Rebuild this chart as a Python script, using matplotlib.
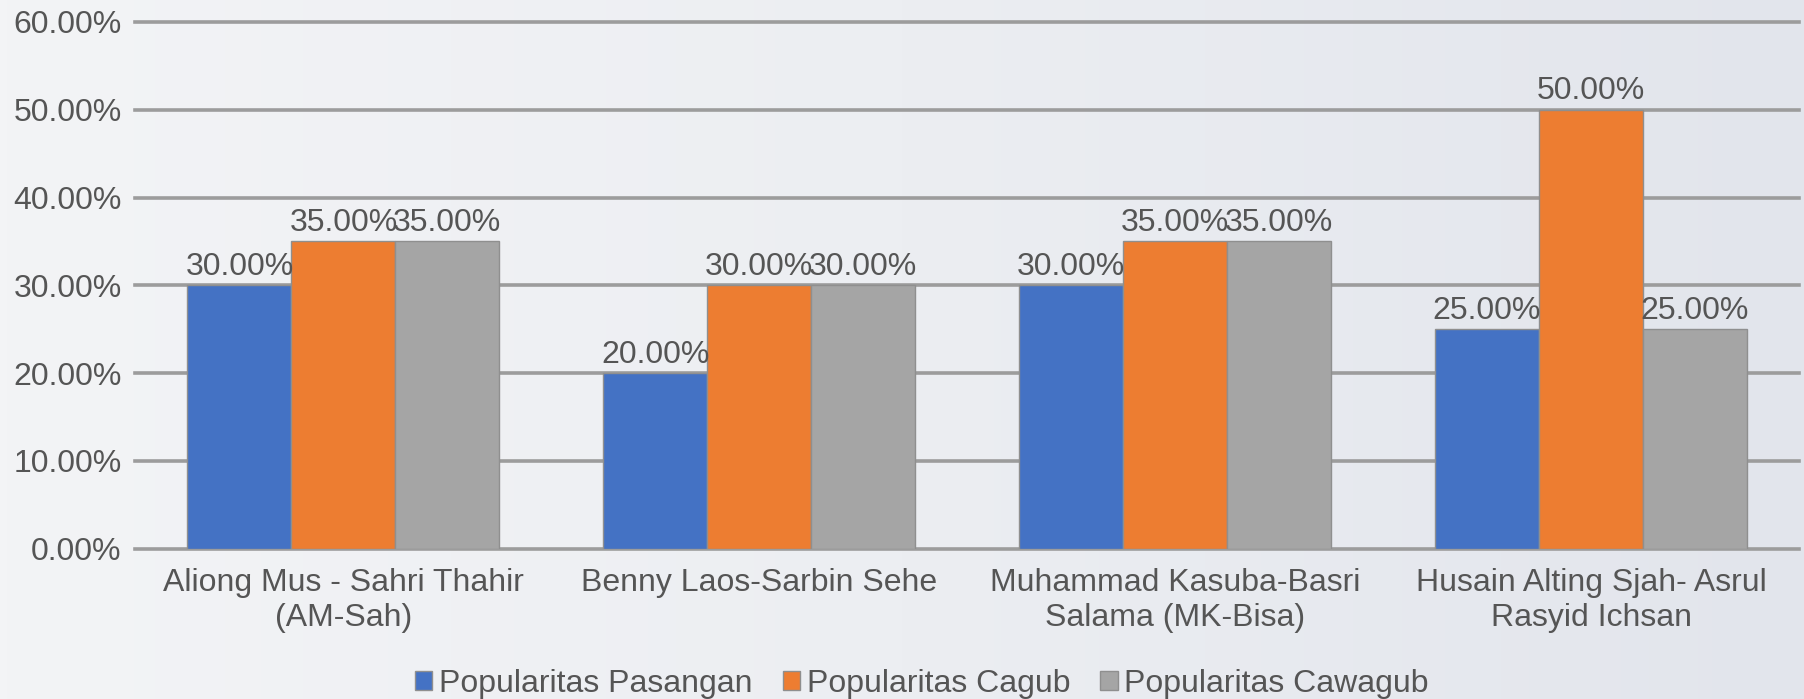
import matplotlib
matplotlib.use("Agg")
import matplotlib.pyplot as plt
import numpy as np
from matplotlib.ticker import FuncFormatter
from matplotlib.colors import LinearSegmentedColormap

categories = ["Aliong Mus - Sahri Thahir\n(AM-Sah)", "Benny Laos-Sarbin Sehe",
              "Muhammad Kasuba-Basri\nSalama (MK-Bisa)", "Husain Alting Sjah- Asrul\nRasyid Ichsan"]
series_names = ["Popularitas Pasangan", "Popularitas Cagub", "Popularitas Cawagub"]
pasangan = [0.30, 0.20, 0.30, 0.25]
cagub = [0.35, 0.30, 0.35, 0.50]
cawagub = [0.35, 0.30, 0.35, 0.25]
colors = ["#4472C4", "#ED7D31", "#A5A5A5"]

plt.rcParams['font.family'] = ['Liberation Sans', 'DejaVu Sans']
txt = "#555555"
fs = 23

fig = plt.figure(figsize=(18.04, 6.99), dpi=100)
# background gradient
bg = fig.add_axes([0, 0, 1, 1], zorder=-10)
grad = np.linspace(0, 1, 256)[None, :]
cmap = LinearSegmentedColormap.from_list("bg", ["#f3f4f6", "#eceef2", "#e2e5ec"])
bg.imshow(grad, aspect='auto', cmap=cmap, extent=[0, 1, 0, 1])
bg.axis('off')

ax = fig.add_axes([0.0751, 0.2149, 0.9221, 0.7538])
ax.patch.set_alpha(0)
x = np.arange(len(categories))
w = 0.25
for i, (vals, name) in enumerate(zip([pasangan, cagub, cawagub], series_names)):
    bars = ax.bar(x + (i - 1) * w, vals, w, color=colors[i], label=name,
                  edgecolor="#8f8f8f", linewidth=1.0, zorder=3)
    for b, v in zip(bars, vals):
        ax.text(b.get_x() + b.get_width() / 2, v + 0.004, f"{v*100:.2f}%",
                ha='center', va='bottom', fontsize=fs, color=txt, zorder=4)

ax.set_xlim(-0.5, len(categories) - 0.5)
ax.set_ylim(0, 0.60)
ax.set_yticks(np.arange(0, 0.61, 0.10))
ax.yaxis.set_major_formatter(FuncFormatter(lambda v, p: f"{v*100:.2f}%"))
ax.grid(axis='y', color="#9c9c9c", linewidth=2.6, zorder=0)
for gl in ax.get_ygridlines():
    gl.set_clip_on(False)
ax.set_axisbelow(True)
for s in ax.spines.values():
    s.set_visible(False)
ax.tick_params(axis='both', length=0, labelsize=fs, labelcolor=txt)
ax.tick_params(axis='y', pad=10)
ax.tick_params(axis='x', pad=14)
ax.set_xticks(x)
ax.set_xticklabels(categories, linespacing=1.2)

handles, labels = ax.get_legend_handles_labels()
fig.legend(handles, labels, loc='center', bbox_to_anchor=(0.511, 0.022), ncol=3,
           frameon=False, fontsize=fs, labelcolor=txt, handlelength=0.55, handleheight=0.55,
           handletextpad=0.2, columnspacing=0.95, borderpad=0)

fig.savefig("out.png", dpi=100)
